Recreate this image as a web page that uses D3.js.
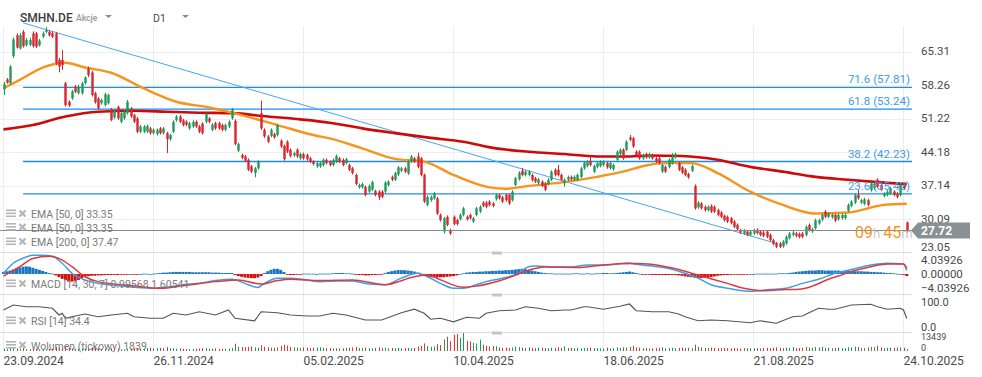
<!DOCTYPE html>
<html>
<head>
<meta charset="utf-8">
<script src="https://cdn.jsdelivr.net/npm/d3@7"></script>
<style>
  body { margin: 0; background: #fff; }
  #chart { width: 982px; height: 377px; }
  text { font-family: Roboto, "Noto Sans", sans-serif; }
</style>
</head>
<body>
<div id="chart"></div>
<script>
// ---- data ----
const symbol = "SMHN.DE";
const assetType = "Akcje";
const interval = "D1";

// daily candles [open, high, low, close]
const candles = [
  [57.4,59.0,56.2,58.5],[59.5,59.8,58.6,58.8],[58.7,62.5,58.4,62.2],[64.4,68.3,64.0,67.9],[68.8,69.2,66.0,66.2],[66.0,69.3,65.8,68.8],[69.5,69.9,66.2,66.5],[66.7,68.2,66.4,67.8],[66.8,68.3,66.5,67.8],[69.2,69.6,66.2,66.5],
  [69.2,69.5,66.1,66.4],[66.7,68.0,66.4,67.7],[68.5,69.6,68.2,69.2],[69.5,70.5,69.2,69.9],[69.5,69.9,68.5,68.8],[69.2,69.6,68.2,68.5],[69.2,69.5,62.5,62.9],[63.6,64.0,61.0,62.2],[63.6,65.7,61.5,62.5],[58.7,59.0,53.8,54.1],
  [54.8,55.1,53.7,54.0],[55.5,57.3,55.2,57.0],[58.0,58.3,56.6,56.9],[56.6,58.4,56.3,58.0],[56.6,59.0,56.3,58.7],[58.7,60.2,58.4,59.9],[61.8,62.2,60.0,60.4],[61.0,61.3,55.9,56.2],[56.6,56.9,54.4,54.7],[55.5,55.8,53.1,53.4],
  [54.5,55.5,54.2,55.2],[54.1,56.7,53.8,56.4],[54.5,56.5,54.2,56.2],[53.2,53.5,50.7,51.0],[51.5,53.2,51.2,52.9],[53.7,54.0,51.0,51.3],[50.6,52.7,50.3,52.4],[51.3,53.0,51.0,52.7],[52.4,55.2,52.1,54.8],[53.4,53.7,51.4,51.7],
  [52.0,52.3,50.3,50.6],[51.3,51.6,48.2,48.5],[48.5,49.9,48.2,49.6],[48.5,49.9,48.2,49.6],[48.5,50.0,48.2,49.7],[49.2,49.5,47.9,48.2],[48.2,49.2,47.9,48.9],[48.0,49.2,47.7,48.9],[49.2,49.5,47.9,48.2],[48.2,49.5,47.9,49.2],
  [48.2,48.5,44.0,46.9],[46.9,48.1,46.6,47.8],[48.5,50.9,48.2,50.6],[50.9,52.0,50.6,51.7],[51.7,52.0,50.3,50.6],[50.9,51.2,49.6,49.9],[50.6,50.9,49.7,50.0],[49.2,50.6,48.9,50.3],[49.6,50.9,49.3,50.6],[50.6,50.9,49.3,49.6],
  [49.6,49.9,48.2,48.5],[50.2,50.5,47.9,48.2],[50.6,52.5,50.3,52.2],[51.3,51.6,50.3,50.6],[48.9,50.3,48.6,50.0],[50.3,50.6,48.9,49.2],[50.3,50.6,48.9,49.2],[49.9,50.2,48.6,48.9],[48.9,50.2,48.6,49.9],[49.6,50.9,49.3,50.6],
  [51.3,53.5,51.0,53.2],[50.8,51.1,45.6,45.9],[44.5,46.2,44.2,45.9],[43.6,43.9,42.7,43.0],[43.3,43.6,42.1,42.4],[42.6,42.9,40.2,40.5],[41.2,41.5,39.8,40.1],[39.8,41.1,38.9,40.8],[40.8,42.5,40.5,42.2],[52.4,55.0,48.9,49.2],
  [48.9,49.2,47.2,47.5],[47.5,47.8,46.1,46.4],[47.6,49.2,47.3,48.9],[48.0,48.3,47.0,47.3],[47.8,50.2,47.5,49.9],[46.6,46.9,45.1,45.4],[45.5,45.8,42.4,42.7],[46.4,46.7,44.0,44.3],[44.7,45.0,43.1,43.4],[43.5,44.3,43.2,44.0],
  [44.7,45.0,43.0,43.3],[42.9,44.1,42.6,43.8],[43.8,44.1,42.6,42.9],[43.6,43.9,42.4,42.7],[42.9,43.2,41.9,42.2],[42.2,42.5,41.4,41.7],[41.2,42.2,40.9,41.9],[41.2,42.2,40.9,41.9],[41.5,42.9,41.2,42.6],[42.6,42.9,41.6,41.9],
  [42.2,42.5,41.2,41.5],[41.5,42.9,41.2,42.6],[42.2,43.7,41.9,43.4],[42.9,43.2,41.9,42.2],[42.6,42.9,41.2,41.5],[41.9,43.0,41.6,42.7],[41.5,41.8,40.2,40.5],[40.8,41.1,39.5,39.8],[39.4,39.7,37.2,37.5],[36.8,37.6,36.5,37.3],
  [36.8,37.8,36.5,37.5],[36.9,37.2,34.9,35.2],[35.9,37.4,35.6,37.1],[36.3,38.2,36.0,37.9],[36.0,36.3,34.9,35.2],[35.9,36.2,34.1,34.7],[35.9,36.2,34.5,34.8],[35.9,38.1,35.6,37.8],[37.3,38.3,37.0,38.0],[39.0,39.3,38.1,38.4],
  [38.4,40.1,38.1,39.8],[39.5,41.3,39.2,41.0],[40.3,41.1,40.0,40.8],[40.8,41.1,39.8,40.1],[39.7,42.5,39.4,42.2],[42.2,43.6,41.9,43.3],[42.9,43.2,41.9,42.2],[43.3,44.1,40.8,41.1],[42.9,43.2,39.1,39.4],[39.4,39.7,33.5,33.8],
  [33.1,35.1,32.8,34.8],[34.1,35.1,33.8,34.8],[34.5,35.8,34.2,35.5],[34.5,34.8,31.0,31.3],[31.0,31.3,29.6,29.9],[27.5,30.6,27.1,30.3],[30.6,30.9,28.6,28.9],[27.8,28.1,26.8,27.1],[30.6,30.9,28.8,29.1],[29.9,30.2,28.8,29.1],
  [30.1,31.3,29.8,31.0],[31.0,32.7,30.7,32.4],[30.6,30.9,29.8,30.1],[31.0,31.3,30.0,30.3],[29.6,30.6,29.3,30.3],[31.0,32.7,30.7,32.4],[31.7,33.0,31.4,32.7],[33.6,33.9,32.6,32.9],[33.6,33.9,32.4,32.7],[33.8,34.1,32.8,33.1],
  [33.4,33.7,32.6,32.9],[34.3,35.5,34.0,35.2],[35.2,35.5,34.2,34.5],[34.7,35.0,33.5,33.8],[35.2,35.5,33.8,34.1],[35.2,35.5,33.1,33.4],[34.1,36.2,33.8,35.9],[37.3,39.0,37.0,38.7],[38.5,40.2,38.2,39.9],[40.3,40.9,39.1,39.4],
  [39.4,40.4,39.1,40.1],[39.4,40.4,39.1,40.1],[39.4,39.7,38.0,38.3],[38.7,39.0,37.7,38.0],[37.7,38.8,37.4,38.5],[38.0,38.3,36.8,37.1],[37.6,37.9,36.0,36.3],[37.5,38.7,37.2,38.4],[38.4,40.4,38.1,40.1],[40.5,40.8,39.1,39.4],
  [40.5,41.5,39.1,39.4],[39.4,39.7,38.1,38.4],[37.7,38.7,36.9,38.4],[38.4,39.3,38.1,39.0],[39.0,39.3,38.2,38.5],[38.4,39.3,38.1,39.0],[38.4,39.7,38.1,39.4],[39.0,41.1,38.7,40.8],[40.8,42.3,40.5,42.0],[41.3,42.5,41.0,42.2],
  [42.4,43.3,41.2,41.5],[40.1,41.6,39.8,41.3],[41.1,42.2,40.8,41.9],[41.3,42.5,41.0,42.2],[41.5,42.5,41.2,42.2],[41.9,42.2,40.7,41.0],[40.8,42.2,40.5,41.9],[40.6,41.8,40.3,41.5],[42.6,44.6,42.3,44.3],[43.8,45.0,43.5,44.7],
  [44.7,45.0,42.6,42.9],[44.7,46.7,44.4,46.4],[47.3,47.8,46.5,46.8],[47.1,47.4,45.1,45.4],[44.3,44.6,43.3,43.6],[44.3,44.6,42.6,42.9],[42.9,43.9,42.6,43.6],[43.8,44.1,42.8,43.1],[43.1,44.1,42.8,43.8],[43.6,43.9,42.6,42.9],
  [42.9,43.2,41.9,42.2],[42.9,43.2,41.6,41.9],[40.1,41.8,39.8,41.5],[41.1,41.4,39.8,40.1],[41.1,42.9,40.8,42.6],[41.9,44.0,41.6,43.1],[43.1,44.1,42.8,43.8],[41.9,42.2,40.2,40.5],[41.0,41.3,39.6,39.9],[40.5,40.8,39.1,39.4],
  [39.6,39.9,38.6,38.9],[40.3,41.6,40.0,41.3],[37.1,37.4,32.1,32.4],[32.6,33.9,32.3,33.6],[33.4,33.7,32.1,32.4],[32.7,33.0,31.7,32.0],[32.0,33.0,31.7,32.7],[32.9,33.2,31.4,31.7],[32.7,33.0,31.4,31.7],[32.0,32.3,30.7,31.0],
  [31.5,31.8,30.3,30.6],[30.8,31.1,29.6,29.9],[30.6,30.9,29.3,29.6],[30.3,30.6,29.0,29.3],[29.6,29.9,28.2,28.5],[28.9,29.2,27.7,28.0],[27.8,28.1,27.0,27.3],[27.1,28.0,26.8,27.7],[27.5,27.8,26.5,26.8],[26.8,27.8,26.5,27.5],
  [27.1,28.1,26.8,27.8],[27.9,28.2,26.9,27.2],[27.5,27.8,26.5,26.8],[27.3,27.6,26.3,26.6],[27.5,27.8,26.1,26.4],[26.8,27.1,25.4,25.7],[25.7,26.0,24.6,24.9],[25.0,25.3,24.0,24.3],[25.0,25.3,24.0,24.3],[24.4,25.7,24.1,25.4],
  [25.0,26.7,24.7,26.4],[26.1,27.4,25.8,27.1],[26.8,27.6,26.5,27.3],[27.1,27.4,26.3,26.6],[27.0,27.3,26.1,26.4],[27.1,27.4,26.1,26.4],[26.8,28.8,26.5,28.5],[28.9,29.2,27.5,27.8],[27.5,28.3,27.2,28.0],[28.2,30.2,27.9,29.9],
  [29.2,30.2,28.9,29.9],[30.0,31.3,29.7,31.0],[31.7,32.0,30.3,30.6],[30.6,31.6,30.3,31.3],[30.5,31.3,30.2,31.0],[31.0,31.3,29.5,29.8],[30.1,31.3,29.8,31.0],[30.3,31.3,30.0,31.0],[30.3,31.3,30.0,31.0],[31.9,33.4,31.6,33.1],
  [32.9,34.1,32.6,33.8],[33.6,35.5,33.3,35.2],[35.2,36.3,34.2,34.5],[33.6,34.4,33.3,34.1],[33.3,34.6,33.0,34.3],[34.1,34.4,32.8,33.1],[36.2,37.9,35.9,37.6],[36.6,37.9,36.3,37.6],[38.4,38.7,36.6,36.9],[37.3,37.6,36.0,36.3],
  [35.0,35.8,34.7,35.5],[35.2,36.2,34.9,35.9],[35.5,36.9,35.2,36.6],[35.9,36.2,34.9,35.2],[35.5,35.8,34.5,34.8],[35.2,37.6,34.9,37.3],[37.6,37.9,36.3,36.6],[29.4,29.6,27.2,27.72]
];

// tick volume per candle
const volumes = [
  2400,1900,3200,3800,2600,2100,3000,1700,2000,2600,
  2300,1600,1500,1400,1900,2200,3900,3000,3200,4500,
  3300,2600,2200,2400,2100,2300,2800,3600,3100,2900,
  2000,1900,1800,2700,1800,2500,1700,1600,2200,2400,
  2300,3200,2500,2100,3000,3300,2700,2900,3100,2800,
  3900,2600,2900,2300,2600,2200,2100,1900,2100,2300,
  2500,2800,3000,2200,2400,2600,2100,2300,2200,2400,
  3100,7200,4300,3900,3800,4100,4600,3700,3300,5800,
  4200,3600,3400,3100,3700,5100,6200,5400,4100,3500,
  3300,3000,3600,3400,2900,3200,3500,3800,3100,2700,
  3000,2600,2800,2500,2700,3100,3300,3600,4200,3000,
  2900,3400,2800,2600,3100,3700,2900,3300,2700,3000,
  2800,3200,2600,2900,3100,2700,3000,4400,5100,7600,
  4800,4200,4600,6800,5900,11500,14200,9800,16200,16800,
  13200,18100,10200,9600,8100,7400,11300,6200,5200,4500,
  5000,4800,3600,3100,3400,3000,3500,4400,3900,3300,
  3000,3600,3100,2800,3400,3200,2900,2700,3300,3100,
  3700,2900,4600,3000,3200,2800,3300,2600,2900,3100,
  3500,2800,3000,2700,2600,3300,2500,2900,3800,3100,
  3700,3400,4000,5100,3600,3300,2800,3000,2600,2700,
  2900,3200,3800,2600,3000,3300,2800,3100,3500,2900,
  3200,2800,6300,4200,3500,3100,2900,3400,3000,2700,
  2900,3100,2800,2600,3000,2700,2500,2900,2600,2800,
  2700,3000,2500,2900,3100,2800,3300,3600,3200,2900,
  3400,3100,3700,2800,3000,3200,4100,3500,3300,3900,
  3600,4200,3000,3400,2800,3100,3300,3000,2700,3800,
  3500,4300,3900,3100,2900,3600,4000,3800,5200,3700,
  2900,3200,3500,3000,3400,3700,3300,1839
];

// MACD histogram per candle
const macdHist = [
  0.6,0.8,1.0,1.3,1.6,1.9,2.1,2.2,2.1,1.8,
  1.5,1.2,0.9,0.6,0.3,0.1,-0.4,-0.9,-1.4,-1.8,
  -2.1,-2.2,-2.0,-1.7,-1.2,-0.8,-0.6,-0.5,-0.5,-0.4,
  -0.4,-0.3,-0.3,-0.3,-0.2,-0.3,-0.2,-0.2,-0.1,0.0,
  -0.1,-0.1,0.0,0.1,0.1,0.0,0.1,0.2,0.3,0.4,
  0.4,0.5,0.6,0.6,0.6,0.6,0.6,0.6,0.5,0.5,
  0.5,0.5,0.5,0.5,0.4,0.4,0.4,0.3,0.3,0.3,
  0.3,-0.3,-0.6,-0.8,-1.0,-1.1,-1.2,-1.2,-1.0,-0.6,
  0.3,0.8,1.2,1.5,1.5,1.2,0.6,-0.1,-0.3,-0.3,
  -0.2,-0.1,0.1,0.1,0.1,0.1,0.0,0.1,0.1,0.1,
  0.1,0.2,0.3,0.3,0.3,0.2,0.2,0.1,-0.2,-0.3,
  -0.3,-0.4,-0.4,-0.3,-0.3,-0.2,-0.1,0.3,0.6,0.8,
  1.0,1.1,1.1,1.1,1.0,0.9,0.7,0.4,-0.2,-0.5,
  -0.8,-0.9,-1.0,-1.0,-0.9,-0.9,-0.8,-0.7,-0.6,-0.4,
  0.0,0.2,0.4,0.5,0.6,0.6,0.7,0.7,0.8,0.8,
  0.9,0.9,1.0,1.0,1.1,1.1,1.2,1.3,1.4,1.5,
  1.4,1.2,1.0,0.8,0.6,0.4,0.3,0.2,0.2,0.1,
  0.1,0.1,0.1,0.1,0.1,0.2,0.2,0.1,0.1,0.2,
  0.1,0.1,0.2,0.2,0.3,0.3,0.2,0.2,0.3,0.4,
  0.5,0.6,0.7,0.5,0.3,0.1,-0.1,-0.2,-0.2,-0.3,
  -0.3,-0.3,-0.3,-0.3,-0.3,-0.3,-0.3,-0.4,-0.5,-0.7,
  -0.8,-0.9,-1.1,-1.2,-1.2,-1.1,-1.0,-0.9,-0.7,-0.5,
  -0.4,-0.3,-0.3,-0.2,-0.2,-0.2,-0.1,-0.1,-0.1,0.0,
  0.0,0.1,0.1,0.1,0.1,0.1,0.1,0.1,0.2,0.2,
  0.2,0.3,0.4,0.6,0.7,0.8,0.9,1.0,1.0,1.0,
  1.1,1.1,1.0,1.0,1.0,1.0,1.0,0.9,0.9,0.9,
  0.9,0.8,0.8,0.8,0.7,0.7,0.6,0.6,0.5,0.5,
  0.4,0.3,0.3,0.2,0.1,0.0,-0.1,-0.61
];

// indicator lines, [candle index, value]
const ema50 = [[0,57.6],[5,59.4],[12,62.0],[19,63.0],[25,62.0],[33,60.9],[43,57.6],[53,54.8],[63,53.6],[73,52.0],[84,49.9],[95,47.8],[100,47.1],
  [110,45.0],[120,42.8],[129,42.2],[138,39.4],[149,36.8],[154,36.5],[161,37.1],[172,37.9],[182,39.0],[190,40.1],[197,41.4],[203,41.9],
  [211,41.9],[219,39.8],[229,35.9],[239,33.1],[249,31.3],[259,31.5],[270,33.1],[277,33.35]];
const ema200 = [[0,49.0],[9,49.9],[19,51.7],[29,52.7],[40,52.9],[50,52.7],[60,52.5],[70,52.4],[81,51.7],[91,51.1],[100,50.4],[110,49.2],
  [120,48.2],[131,47.2],[141,46.4],[151,45.0],[161,44.3],[172,43.8],[182,43.3],[192,43.3],[198,43.5],[208,43.4],[219,42.6],[229,41.1],
  [239,40.1],[249,39.0],[259,38.4],[270,37.8],[277,37.47]];
const macdLine = [[0,0.2],[3,3.1],[7,4.9],[9,5.4],[12,5.4],[15,5.1],[18,3.1],[21,0.2],[25,-1.7],[29,-2.7],[35,-3.4],[40,-3.8],[46,-4.1],
  [50,-3.8],[55,-3.1],[60,-2.7],[65,-1.9],[70,-1.5],[74,-2.7],[78,-3.9],[80,-2.7],[84,-1.2],[88,-1.2],[93,-1.7],[97,-2.2],[102,-2.0],
  [107,-2.0],[112,-2.9],[117,-3.1],[122,-1.2],[127,0.2],[130,-0.8],[134,-2.7],[138,-4.1],[141,-4.1],[145,-3.1],[148,-2.2],[153,-1.2],
  [158,0.2],[161,2.1],[163,2.3],[168,2.1],[174,2.0],[179,2.6],[184,2.6],[192,3.2],[194,2.8],[199,2.3],[204,1.6],[209,0.2],[213,-1.2],
  [217,-3.1],[222,-4.1],[229,-5.0],[235,-4.5],[240,-4.1],[245,-2.7],[250,-1.5],[255,0.2],[260,1.3],[266,2.6],[271,3.1],[276,2.9],[277,0.99568]];
const signalLine = [[0,-0.6],[5,2.1],[9,4.5],[14,5.1],[17,4.5],[21,2.1],[25,-0.8],[29,-2.2],[40,-3.4],[48,-4.1],[55,-3.4],[65,-2.2],
  [72,-1.7],[79,-2.9],[84,-1.9],[88,-1.5],[97,-1.9],[107,-1.7],[117,-3.1],[126,-0.8],[130,-0.3],[134,-1.7],[141,-3.8],[145,-3.5],
  [153,-1.7],[163,1.6],[166,2.0],[177,1.9],[184,2.6],[194,3.0],[202,2.3],[209,0.8],[213,-0.3],[222,-2.7],[227,-4.1],[233,-4.8],
  [240,-4.5],[244,-4.4],[248,-3.5],[253,-1.5],[256,-0.6],[260,0.7],[266,2.1],[271,2.9],[276,2.9],[277,1.60541]];
const rsiLine = [[0,68],[3,88],[7,81],[11,81],[15,75],[17,48],[18,55],[19,35],[22,44],[25,52],[29,41],[33,48],[38,55],[40,41],[45,35],
  [49,35],[52,55],[56,48],[60,61],[65,48],[69,68],[71,35],[77,25],[79,61],[84,57],[88,48],[93,44],[97,44],[101,55],[105,48],[111,28],
  [116,28],[122,57],[126,71],[129,55],[131,31],[134,35],[138,21],[142,39],[146,35],[148,55],[152,65],[157,68],[160,81],[164,75],[168,65],
  [172,68],[174,68],[178,81],[179,81],[184,71],[189,83],[192,92],[194,65],[199,61],[204,61],[207,52],[209,41],[213,25],[217,28],[222,25],
  [229,17],[232,25],[237,15],[242,41],[245,44],[247,57],[250,75],[253,71],[255,71],[260,88],[266,91],[268,81],[271,71],[275,75],[276,68],[277,34.4]];

// drawing tools
const trendLine = [[6,71.4],[237.5,24.9]];
const fibStartIdx = 6;
const fibLevels = ["71.6", "61.8", "38.2", "23.6"];
const fibPrices = [57.81, 53.24, 42.23, 35.42];

const lastPrice = 27.72;
const countdown = ["09", "h", "45", "m"];

// axes
const dateIdx = [0, 46, 92, 138, 184, 230, 276];
const dateLabels = ["23.09.2024", "26.11.2024", "05.02.2025", "10.04.2025", "18.06.2025", "21.08.2025", "24.10.2025"];
const priceTicks = [65.31, 58.26, 51.22, 44.18, 37.14, 30.09, 23.05];
const macdTicks = [4.03926, 0, -4.03926];
const rsiTicks = [100, 0];
const volTicks = [13439, 0];

const emaLegend = ["EMA [50, 0] 33.35", "EMA [50, 0] 33.35", "EMA [200, 0] 37.47"];
const macdLegend = "MACD  [14, 30, 7]  0.99568  1.60541";
const rsiLegend = "RSI  [14]  34.4";
const volLegend = "Wolumen  (tickowy)  1839";

// ---- layout ----
const W = 982, H = 377;
const plotRight = 912;
const panels = {
  price: [0, 252.5],
  macd: [253, 294.5],
  rsi: [295, 332.5],
  vol: [333, 352]
};
const GREEN = "#1f9a58", RED = "#d8262c";
const FONT = "Roboto, 'Noto Sans', sans-serif";

const svg = d3.select("#chart").append("svg")
  .attr("width", W).attr("height", H)
  .attr("viewBox", `0 0 ${W} ${H}`);

const defs = svg.append("defs");
Object.entries(panels).forEach(([k, [y0, y1]]) => {
  defs.append("clipPath").attr("id", "clip-" + k)
    .append("rect").attr("x", 0).attr("y", y0).attr("width", plotRight).attr("height", y1 - y0);
});

const x = d3.scaleLinear().domain([0, 276]).range([3.5, 903.5]);
const yPrice = d3.scaleLinear().domain([23.05, 65.31]).range([252.7, 51.8]);
const yMacd = d3.scaleLinear().domain([-4.03926, 4.03926]).range([288, 260]);
const yRsi = d3.scaleLinear().domain([0, 100]).range([327, 302]);
const yVol = d3.scaleLinear().domain([0, 13439]).range([351, 337.5]);

// ---- grid ----
const grid = svg.append("g").attr("class", "grid");
grid.selectAll(".vgrid").data(dateIdx).enter().append("line")
  .attr("x1", d => x(d)).attr("x2", d => x(d))
  .attr("y1", 26).attr("y2", 352)
  .attr("stroke", "#ececec").attr("stroke-width", 1);
grid.selectAll(".hgrid").data(priceTicks.slice(0, -1)).enter().append("line")
  .attr("x1", 0).attr("x2", plotRight)
  .attr("y1", d => Math.round(yPrice(d)) + 0.5).attr("y2", d => Math.round(yPrice(d)) + 0.5)
  .attr("stroke", "#efefef").attr("stroke-width", 1);

// panel separators and handles
[panels.price[1], panels.macd[1], panels.rsi[1]].forEach(y => {
  svg.append("line").attr("x1", 0).attr("x2", plotRight).attr("y1", y).attr("y2", y)
    .attr("stroke", "#dcdcdc").attr("stroke-width", 1);
  svg.append("rect").attr("x", 492).attr("y", y - 1).attr("width", 10).attr("height", 3)
    .attr("fill", "#c6c6c6");
});

// ---- price panel ----
const pg = svg.append("g").attr("clip-path", "url(#clip-price)");

// fibonacci levels
pg.selectAll(".fib").data(fibPrices).enter().append("line")
  .attr("x1", x(fibStartIdx)).attr("x2", plotRight)
  .attr("y1", d => yPrice(d)).attr("y2", d => yPrice(d))
  .attr("stroke", "#1a8cef").attr("stroke-width", 1.3);

// trend line
pg.append("path")
  .datum(trendLine)
  .attr("d", d3.line().x(d => x(d[0])).y(d => yPrice(d[1])))
  .attr("fill", "none").attr("stroke", "#45a6f3").attr("stroke-width", 1);

// moving averages
const emaGen = d3.line().x(d => x(d[0])).y(d => yPrice(d[1])).curve(d3.curveMonotoneX);
pg.append("path").datum(ema200).attr("d", emaGen)
  .attr("fill", "none").attr("stroke", "#cc0a0a").attr("stroke-width", 2.6);
pg.append("path").datum(ema50).attr("d", emaGen)
  .attr("fill", "none").attr("stroke", "#f7941d").attr("stroke-width", 2.4);

// candles
const cg = pg.append("g").attr("class", "candles");
const candle = cg.selectAll(".candle").data(candles).enter().append("g");
candle.append("line")
  .attr("x1", (d, i) => Math.round(x(i)) + 0.5).attr("x2", (d, i) => Math.round(x(i)) + 0.5)
  .attr("y1", d => yPrice(d[1])).attr("y2", d => yPrice(d[2]))
  .attr("stroke", d => d[3] >= d[0] ? GREEN : RED).attr("stroke-width", 1);
candle.append("rect")
  .attr("x", (d, i) => Math.round(x(i)) - 0.7)
  .attr("width", 2.4)
  .attr("y", d => yPrice(Math.max(d[0], d[3])))
  .attr("height", d => Math.max(1, Math.abs(yPrice(d[0]) - yPrice(d[3]))))
  .attr("fill", d => d[3] >= d[0] ? GREEN : RED);

// last price line
pg.append("line")
  .attr("x1", 0).attr("x2", plotRight)
  .attr("y1", yPrice(lastPrice)).attr("y2", yPrice(lastPrice))
  .attr("stroke", "#858b8f").attr("stroke-width", 1.2);

// fib labels
svg.selectAll(".fibLabel").data(fibPrices).enter().append("text")
  .attr("x", 910).attr("y", d => yPrice(d) - 4)
  .attr("text-anchor", "end")
  .attr("font-size", 11.5).attr("fill", "#3d9be9")
  .text((d, i) => `${fibLevels[i]} (${d.toFixed(2)})`);

// countdown to close
const cd = svg.append("text").attr("x", 855).attr("y", yPrice(lastPrice) + 8)
  .attr("font-size", 16);
countdown.forEach((t, i) => {
  cd.append("tspan").text(t)
    .attr("fill", i % 2 === 0 ? "#f7941d" : "#c9c9c9")
    .attr("font-size", i % 2 === 0 ? 16 : 13)
    .attr("dx", i === 2 ? 3 : 0);
});

// ---- MACD panel ----
const mg = svg.append("g").attr("clip-path", "url(#clip-macd)");
const legendText = (y, t) => svg.append("text").attr("x", 31).attr("y", y + 4)
  .attr("font-size", 10.5).attr("fill", "#7a7a7a").text(t);
function drawIcon(y) {
  const ig = svg.append("g").attr("fill", "#b5b5b5");
  ig.append("rect").attr("x", 6).attr("y", y - 4.5).attr("width", 10).attr("height", 1.6);
  ig.append("rect").attr("x", 6).attr("y", y - 1.5).attr("width", 10).attr("height", 1.6);
  ig.append("rect").attr("x", 6).attr("y", y + 1.5).attr("width", 10).attr("height", 1.6);
  ig.append("path").attr("d", `M19.5,${y - 3.5} L25.5,${y + 2.5} M25.5,${y - 3.5} L19.5,${y + 2.5}`)
    .attr("stroke", "#b5b5b5").attr("stroke-width", 2.2).attr("fill", "none");
}

drawIcon(284); legendText(284, macdLegend);

mg.selectAll(".hist").data(macdHist).enter().append("rect")
  .attr("x", (d, i) => x(i) - 1.5)
  .attr("width", 3)
  .attr("y", d => Math.min(yMacd(d), yMacd(0)))
  .attr("height", d => Math.max(0.8, Math.abs(yMacd(d) - yMacd(0))))
  .attr("fill", d => d >= 0 ? "#1976c2" : "#d50f0f");

const macdGen = d3.line().x(d => x(d[0])).y(d => yMacd(d[1])).curve(d3.curveMonotoneX);
mg.append("path").datum(macdLine).attr("d", macdGen)
  .attr("fill", "none").attr("stroke", "#3d9fe6").attr("stroke-width", 1.5);
mg.append("path").datum(signalLine).attr("d", macdGen)
  .attr("fill", "none").attr("stroke", "#e0393b").attr("stroke-width", 1.5);

// ---- RSI panel ----
const rg = svg.append("g").attr("clip-path", "url(#clip-rsi)");
drawIcon(321); legendText(321, rsiLegend);
rg.append("path").datum(rsiLine)
  .attr("d", d3.line().x(d => x(d[0])).y(d => yRsi(d[1])))
  .attr("fill", "none").attr("stroke", "#555").attr("stroke-width", 1.2);

// ---- volume panel ----
const vg = svg.append("g").attr("clip-path", "url(#clip-vol)");
drawIcon(345.5); legendText(345.5, volLegend);
vg.selectAll(".vol").data(volumes).enter().append("rect")
  .attr("x", (d, i) => Math.round(x(i)))
  .attr("width", 1)
  .attr("y", d => yVol(d))
  .attr("height", d => yVol(0) - yVol(d))
  .attr("fill", (d, i) => candles[i][3] >= candles[i][0] ? "#17a257" : "#e0363a");

// ---- EMA legend ----
[214, 227.5, 242].forEach((y, i) => { drawIcon(y); legendText(y, emaLegend[i]); });

// ---- right axes ----
function rightAxis(scale, ticks, fmt, bottom, size, pad) {
  const g = svg.append("g").attr("transform", "translate(921,0)")
    .call(d3.axisRight(scale).tickValues(ticks).tickSize(0).tickPadding(0).tickFormat(fmt));
  g.select(".domain").remove();
  g.selectAll(".tick").attr("transform", d => `translate(0,${Math.min(scale(d), bottom - pad)})`);
  g.selectAll("text").attr("font-size", size).attr("fill", "#4a4a4a").attr("font-family", FONT);
  return g;
}
rightAxis(yPrice, priceTicks, d3.format(".2f"), panels.price[1], 11.5, 5);
rightAxis(yMacd, macdTicks, d3.format(".5f"), panels.macd[1], 11.5, 5);
rightAxis(yRsi, rsiTicks, d3.format(".1f"), panels.rsi[1], 11, 5);
rightAxis(yVol, volTicks, d3.format("d"), panels.vol[1], 9, 3.5);

// last price tag (drawn above the axis labels)
const ty = yPrice(lastPrice);
svg.append("path")
  .attr("d", `M911,${ty} L918,${ty - 8} L970,${ty - 8} L970,${ty + 8} L918,${ty + 8} Z`)
  .attr("fill", "#8a9195");
svg.append("text").attr("x", 921).attr("y", ty + 4.8)
  .attr("font-size", 12).attr("font-weight", 700).attr("fill", "#fff")
  .text(lastPrice.toFixed(2));

// ---- date axis ----
const xa = svg.append("g").attr("transform", "translate(0,356)")
  .call(d3.axisBottom(x).tickValues(dateIdx).tickSize(0).tickPadding(0)
    .tickFormat((d, i) => dateLabels[i]));
xa.select(".domain").remove();
xa.selectAll("text").attr("text-anchor", "start").attr("x", -0.5)
  .attr("font-size", 12).attr("fill", "#4a4a4a").attr("font-family", FONT);

// ---- header ----
svg.append("text").attr("x", 20).attr("y", 22)
  .attr("font-size", 12).attr("font-weight", 500).attr("fill", "#3c3c3c").text(symbol);
svg.append("text").attr("x", 76).attr("y", 21)
  .attr("font-size", 8.5).attr("font-weight", 600).attr("fill", "#a0a0a0").text(assetType);
svg.append("text").attr("x", 153).attr("y", 22)
  .attr("font-size", 10.5).attr("fill", "#4a4a4a").text(interval);
[[105, 15], [182, 15]].forEach(([tx, ty2]) => {
  svg.append("path").attr("d", `M${tx},${ty2} L${tx + 7},${ty2} L${tx + 3.5},${ty2 + 3}Z`).attr("fill", "#8a8a8a");
});
</script>
</body>
</html>
